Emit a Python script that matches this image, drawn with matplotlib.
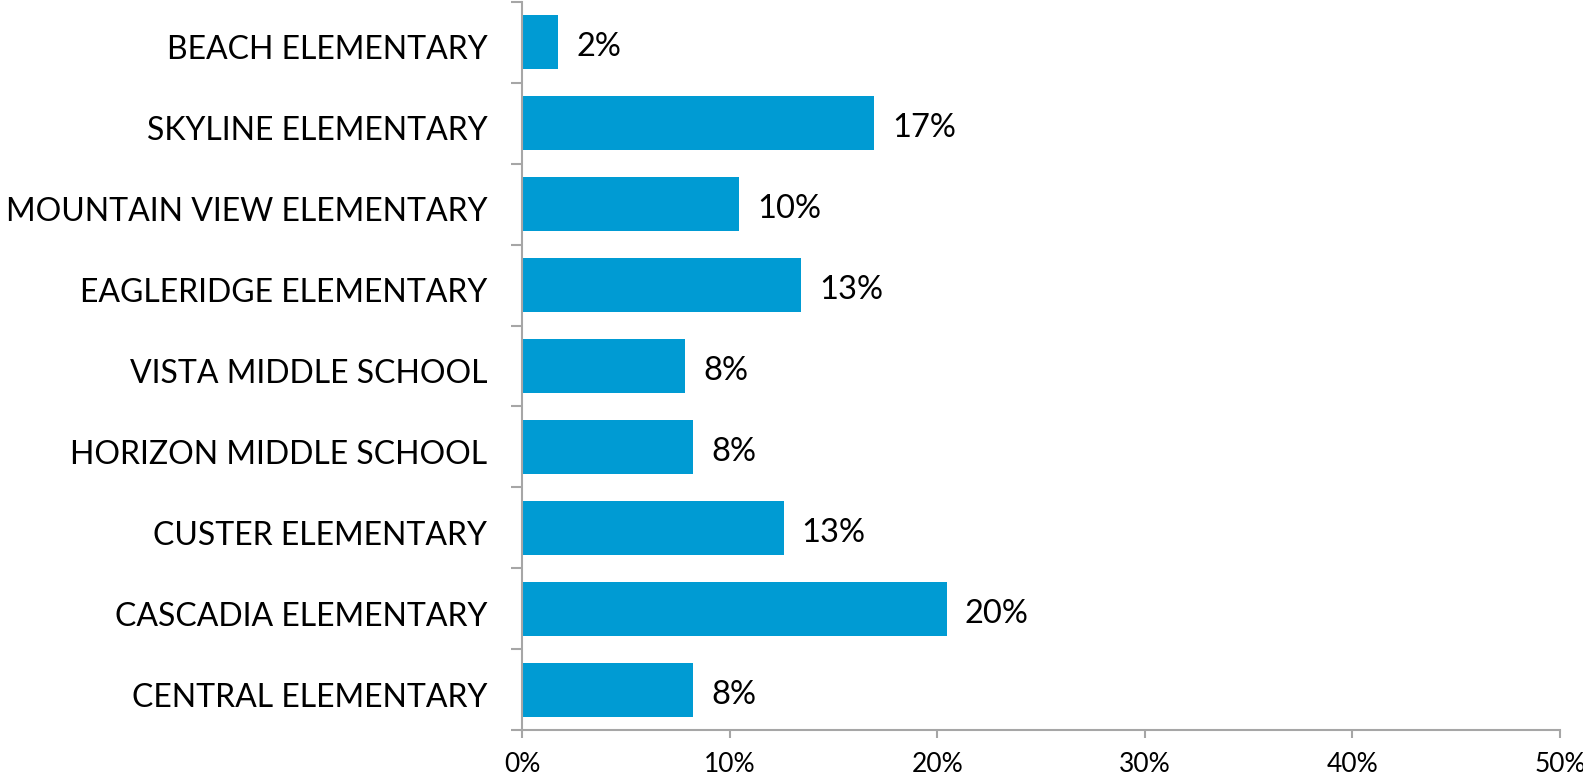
# %%

# share of students by school - horizontal bar chart

import matplotlib.pyplot as plt
from matplotlib.ticker import FuncFormatter
from matplotlib.transforms import ScaledTranslation

schools = ['BEACH ELEMENTARY', 'SKYLINE ELEMENTARY', 'MOUNTAIN VIEW ELEMENTARY',
           'EAGLERIDGE ELEMENTARY', 'VISTA MIDDLE SCHOOL', 'HORIZON MIDDLE SCHOOL',
           'CUSTER ELEMENTARY', 'CASCADIA ELEMENTARY', 'CENTRAL ELEMENTARY']
share = [1.75, 16.95, 10.45, 13.45, 7.85, 8.25, 12.6, 20.45, 8.25]
x_ticks = [0, 10, 20, 30, 40, 50]

# %%

plt.rcParams['font.family'] = ['Lato', 'DejaVu Sans']
axis_grey = '#a6a6a6'

fig = plt.figure(figsize=(15.83, 7.81), dpi=100)
ax = fig.add_axes([0.3298, 0.0653, 0.6557, 0.9321])

pos = list(range(len(schools)))
ax.barh(pos, share, height=0.667, color='#009bd3')
ax.set_ylim(len(schools) - 0.5, -0.5)
ax.set_xlim(0, 50)

# value labels at the end of each bar, nudged down a little
for p, v in zip(pos, share):
    ax.annotate(f'{v:.0f}%', (v, p), xytext=(18, -5), textcoords='offset pixels',
                va='center', ha='left', fontsize=23.5)

ax.set_yticks(pos)
ax.set_yticklabels(schools, fontsize=23)
ax.set_yticks([p + 0.5 for p in range(-1, len(schools))], minor=True)
ax.tick_params(axis='y', which='major', length=0, pad=25)
ax.tick_params(axis='y', which='minor', length=8, width=1.5, color=axis_grey, direction='out')
shift = ScaledTranslation(0, -5 / 100, fig.dpi_scale_trans)
for lbl in ax.get_yticklabels():
    lbl.set_transform(lbl.get_transform() + shift)

ax.set_xticks(x_ticks)
ax.xaxis.set_major_formatter(FuncFormatter(lambda v, p: f'{v:.0f}%'))
ax.tick_params(axis='x', length=6, width=1.5, color=axis_grey, labelsize=19, pad=10)

for side in ['top', 'right']:
    ax.spines[side].set_visible(False)
for side in ['left', 'bottom']:
    ax.spines[side].set_color(axis_grey)
    ax.spines[side].set_linewidth(1.5)

fig.savefig('out.png', dpi=100)
